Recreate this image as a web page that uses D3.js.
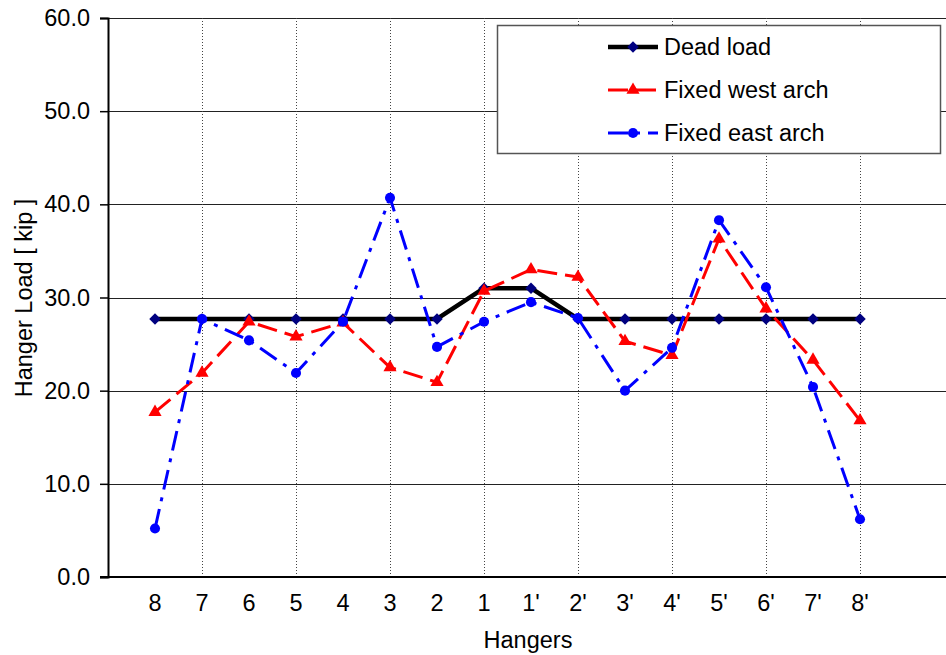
<!DOCTYPE html>
<html>
<head>
<meta charset="utf-8">
<script src="https://cdn.jsdelivr.net/npm/d3@7/dist/d3.min.js"></script>
<style>
  html, body { margin: 0; padding: 0; background: #fff; }
  svg { display: block; font-family: "Liberation Sans", Arial, sans-serif; }
</style>
</head>
<body>
<svg id="chart" width="946" height="655"></svg>
<script>
const categories = ["8","7","6","5","4","3","2","1","1'","2'","3'","4'","5'","6'","7'","8'"];
const deadLoad   = [27.7,27.7,27.7,27.7,27.7,27.7,27.7,31.0,31.0,27.7,27.7,27.7,27.7,27.7,27.7,27.7];
const westArch   = [17.7,21.9,27.4,25.8,27.3,22.5,20.9,30.7,33.0,32.2,25.3,23.8,36.3,28.8,23.3,16.8];
const eastArch   = [5.2,27.7,25.4,21.9,27.4,40.7,24.7,27.4,29.5,27.8,20.0,24.6,38.3,31.1,20.4,6.2];
const seriesNames = ["Dead load","Fixed west arch","Fixed east arch"];
const yTicks = [0,10,20,30,40,50,60];
const xGridIdx = [2,4,6,8,10,12,14,16];

const FS = 23.5;
const svg = d3.select("#chart");
const m = {left: 108, top: 18, right: 954, bottom: 577};
const x = d3.scaleLinear().domain([0, categories.length + 2]).range([m.left, m.right]);
const y = d3.scaleLinear().domain([0, 60]).range([m.bottom, m.top]);
const px = (d, i) => x(i + 1);

// horizontal gridlines
const gy = svg.append("g").attr("transform", `translate(${m.left},0)`)
  .call(d3.axisLeft(y).tickValues(yTicks).tickSize(-(m.right - m.left)).tickFormat(""));
gy.select(".domain").remove();
gy.selectAll("line").attr("stroke", "#222").attr("stroke-width", 1).attr("shape-rendering", "crispEdges");

// vertical dotted gridlines
const gx = svg.append("g").attr("transform", `translate(0,${m.bottom})`)
  .call(d3.axisBottom(x).tickValues(xGridIdx).tickSize(-(m.bottom - m.top)).tickFormat(""));
gx.select(".domain").remove();
gx.selectAll("line").attr("stroke", "#444").attr("stroke-width", 1)
  .attr("stroke-dasharray", "1,2").attr("shape-rendering", "crispEdges");

// y axis with labels
const ya = svg.append("g").attr("transform", `translate(${m.left},0)`)
  .call(d3.axisLeft(y).tickValues(yTicks).tickSize(8).tickPadding(10).tickFormat(d3.format(".1f")));
ya.select(".domain").attr("stroke", "#000").attr("stroke-width", 2);
ya.selectAll("line").attr("stroke", "#000").attr("stroke-width", 1.5);
ya.selectAll("text").attr("font-size", FS).attr("fill", "#000")
  .attr("font-family", "Liberation Sans, Arial, sans-serif");

// x axis baseline
svg.append("line").attr("x1", m.left - 8).attr("x2", m.right)
  .attr("y1", y(0)).attr("y2", y(0)).attr("stroke", "#000").attr("stroke-width", 2);

// x category labels
svg.append("g").selectAll("text").data(categories).join("text")
  .attr("x", px).attr("y", 611).attr("text-anchor", "middle")
  .attr("font-size", FS).attr("fill", "#000").text(d => d);

// axis titles
svg.append("text").attr("x", 528).attr("y", 648).attr("text-anchor", "middle")
  .attr("font-size", FS).text("Hangers");
svg.append("text").attr("transform", "translate(32,298) rotate(-90)")
  .attr("text-anchor", "middle").attr("font-size", FS).text("Hanger Load [ kip ]");

const line = d3.line().x(px).y(d => y(d));

const diamond = d3.symbol().type(d3.symbolSquare).size(66);
const styles = [
  {data: deadLoad, color: "#000", width: 4.5, dash: null, sym: diamond, rot: 45, mcolor: "#000080"},
  {data: westArch, color: "#ff0000", width: 3, dash: "20,8", sym: d3.symbol().type(d3.symbolTriangle).size(75), rot: 0, mcolor: "#ff0000"},
  {data: eastArch, color: "#0000ff", width: 3, dash: "20,8,4,8", sym: d3.symbol().type(d3.symbolCircle).size(80), rot: 0, mcolor: "#0000ff"}
];

styles.forEach(s => {
  svg.append("path").datum(s.data).attr("d", line).attr("fill", "none")
    .attr("stroke", s.color).attr("stroke-width", s.width)
    .attr("stroke-dasharray", s.dash).attr("stroke-linejoin", "round");
  svg.append("g").selectAll("path").data(s.data).join("path")
    .attr("transform", (d, i) => `translate(${px(d, i)},${y(d)}) rotate(${s.rot})`)
    .attr("d", s.sym).attr("fill", s.mcolor);
});

// legend
const lg = svg.append("g");
lg.append("rect").attr("x", 497.5).attr("y", 25.5).attr("width", 443).attr("height", 128)
  .attr("fill", "#fff").attr("stroke", "#555").attr("stroke-width", 1.5);
const rowY = [47, 90, 133];
styles.forEach((s, i) => {
  lg.append("line").attr("x1", 608).attr("x2", 658).attr("y1", rowY[i]).attr("y2", rowY[i])
    .attr("stroke", s.color).attr("stroke-width", s.width).attr("stroke-dasharray", s.dash);
  lg.append("path").attr("transform", `translate(633,${rowY[i]}) rotate(${s.rot})`)
    .attr("d", s.sym).attr("fill", s.mcolor);
  lg.append("text").attr("x", 664).attr("y", rowY[i]).attr("dy", "0.35em")
    .attr("font-size", FS).text(seriesNames[i]);
});
</script>
</body>
</html>
